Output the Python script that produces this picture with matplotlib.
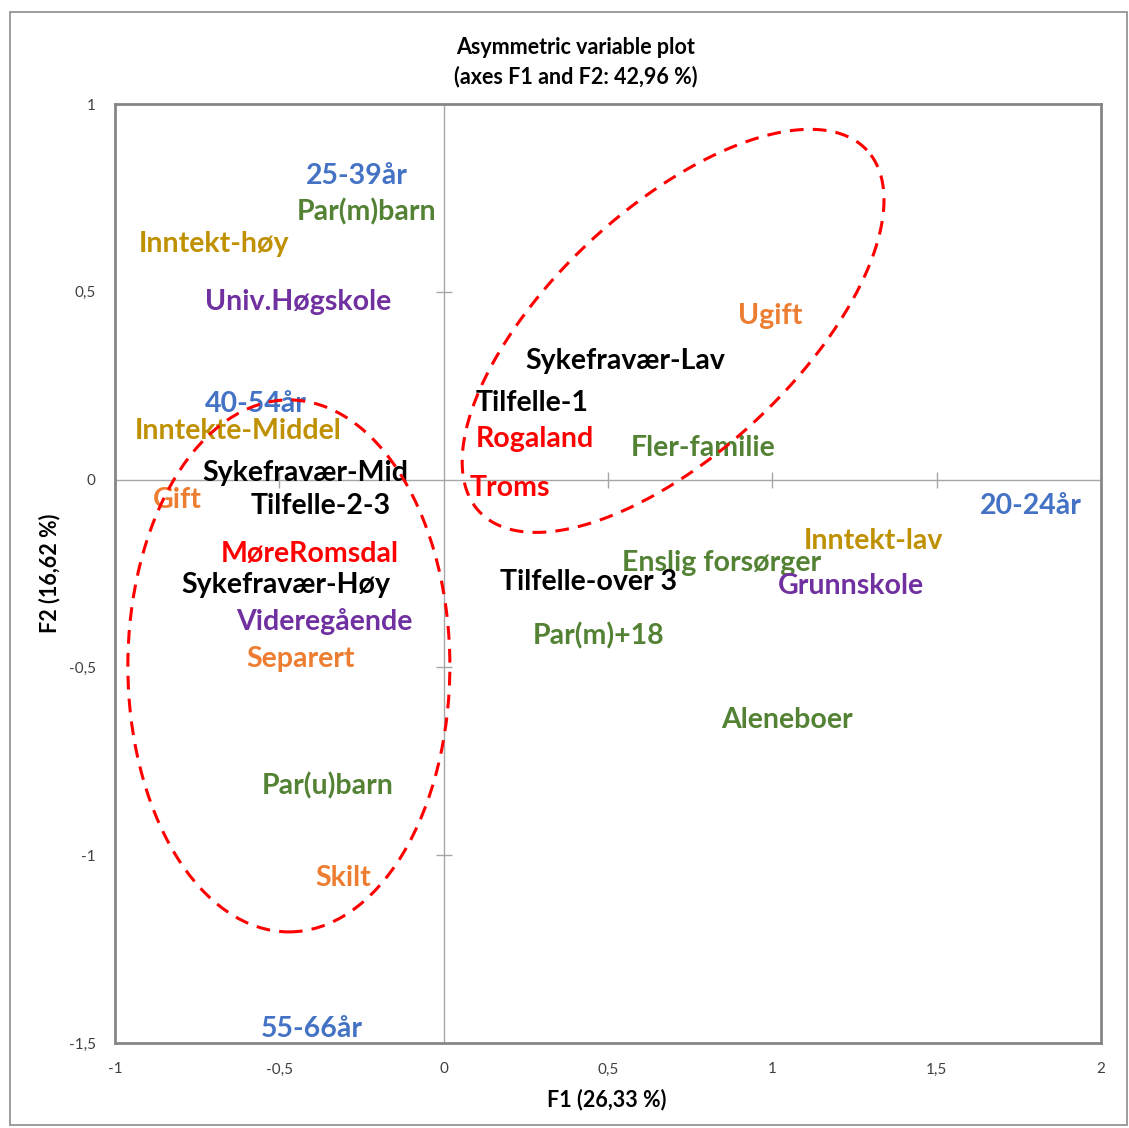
import numpy as np
import matplotlib
matplotlib.use("Agg")
from matplotlib import pyplot as plt
from matplotlib.patches import Rectangle, Ellipse

plt.rcParams["font.family"] = ["Lato", "DejaVu Sans"]

# category labels and their F1/F2 coordinates
labels = [
    "25-39år", "Par(m)barn", "Inntekt-høy", "Univ.Høgskole", "Ugift",
    "Sykefravær-Lav", "Tilfelle-1", "40-54år", "Inntekte-Middel", "Rogaland",
    "Fler-familie", "Sykefravær-Mid", "Troms", "Gift", "Tilfelle-2-3",
    "20-24år", "Inntekt-lav", "MøreRomsdal", "Enslig forsørger", "Sykefravær-Høy",
    "Tilfelle-over 3", "Grunnskole", "Videregående", "Separert", "Par(m)+18",
    "Aleneboer", "Par(u)barn", "Skilt", "55-66år",
]
f1 = [
    -0.264, -0.236, -0.699, -0.443, 0.993,
    0.552, 0.269, -0.570, -0.626, 0.278,
    0.789, -0.422, 0.202, -0.811, -0.373,
    1.787, 1.307, -0.407, 0.847, -0.480,
    0.442, 1.240, -0.364, -0.434, 0.470,
    1.045, -0.352, -0.306, -0.400,
]
f2 = [
    0.808, 0.712, 0.627, 0.473, 0.435,
    0.316, 0.204, 0.201, 0.129, 0.108,
    0.084, 0.018, -0.022, -0.054, -0.070,
    -0.070, -0.164, -0.198, -0.222, -0.281,
    -0.273, -0.283, -0.379, -0.478, -0.417,
    -0.640, -0.816, -1.061, -1.463,
]
groups = [
    "age", "family", "income", "edu", "civil",
    "sick", "sick", "age", "income", "region",
    "family", "sick", "region", "civil", "sick",
    "age", "income", "region", "family", "sick",
    "sick", "edu", "edu", "civil", "family",
    "family", "family", "civil", "age",
]
group_colors = {
    "age": "#4472C4", "family": "#548235", "income": "#BF9000",
    "edu": "#7030A0", "civil": "#ED7D31", "sick": "#000000", "region": "#FF0000",
}

x_ticks = [-1, -0.5, 0, 0.5, 1, 1.5, 2]
y_ticks = [-1.5, -1, -0.5, 0, 0.5, 1]

# ellipses drawn by hand on the original: center (F1, F2), semi axes in pixels, tilt in degrees
ell_upper = dict(cx=0.698, cy=0.396, a=265, b=122, angle=43)
ell_lower = dict(cx=-0.471, cy=-0.496, a=161, b=266, angle=0)


def fmt(v):
    s = ("%g" % v).replace(".", ",")
    return s


fig = plt.figure(figsize=(11.29, 11.28), dpi=100)
ax = fig.add_axes([115 / 1129, 1 - 1043 / 1128, 986 / 1129, 939 / 1128])
ax.set_xlim(-1, 2)
ax.set_ylim(-1.5, 1)

# outer chart border
fig.patches.append(Rectangle((10 / 1129, 3 / 1128), 1117 / 1129, 1113 / 1128,
                             transform=fig.transFigure, fill=False,
                             edgecolor="#8c8c8c", linewidth=1.2))

for sp in ax.spines.values():
    sp.set_color("#868686")
    sp.set_linewidth(2)

ax.axhline(0, color="#a6a6a6", lw=1, zorder=1)
ax.axvline(0, color="#a6a6a6", lw=1, zorder=1)
# small cross ticks on the zero lines
xt = [v for v in x_ticks if v not in (0, x_ticks[0], x_ticks[-1])]
yt = [v for v in y_ticks if v not in (0, y_ticks[0], y_ticks[-1])]
ax.plot(xt, [0] * len(xt), ls="none", marker="|", ms=12, mew=1, color="#a6a6a6")
ax.plot([0] * len(yt), yt, ls="none", marker="_", ms=12, mew=1, color="#a6a6a6")

ax.set_xticks(x_ticks)
ax.set_yticks(y_ticks)
ax.set_xticklabels([fmt(v) for v in x_ticks])
ax.set_yticklabels([fmt(v) for v in y_ticks])
ax.tick_params(length=0, labelsize=11, colors="#404040", pad=14)
ax.tick_params(axis="y", pad=14)

for lab, x, y, g in zip(labels, f1, f2, groups):
    ax.text(x, y, lab, color=group_colors[g], fontsize=20.5, fontweight="bold",
            ha="center", va="center", zorder=3)

# ellipses
px_x = 986 / 3.0
px_y = 939 / 2.5
t = np.linspace(0, 2 * np.pi, 400)
th = np.deg2rad(ell_upper["angle"])
dx = ell_upper["a"] * np.cos(th) * np.cos(t) - ell_upper["b"] * np.sin(th) * np.sin(t)
dy = ell_upper["a"] * np.sin(th) * np.cos(t) + ell_upper["b"] * np.cos(th) * np.sin(t)
ax.plot(ell_upper["cx"] + dx / px_x, ell_upper["cy"] + dy / px_y,
        color="#FF0000", lw=2.2, ls=(0, (4.5, 3)), zorder=4)
ax.add_patch(Ellipse((ell_lower["cx"], ell_lower["cy"]),
                     2 * ell_lower["a"] / px_x, 2 * ell_lower["b"] / px_y,
                     angle=ell_lower["angle"], fill=False, edgecolor="#FF0000",
                     lw=2.2, ls=(0, (4.5, 3)), zorder=4))

fig.text(576 / 1129, 1 - 48 / 1128, "Asymmetric variable plot", ha="center",
         va="center", fontsize=15.5, fontweight="bold")
fig.text(576 / 1129, 1 - 77 / 1128, "(axes F1 and F2: 42,96 %)", ha="center",
         va="center", fontsize=15.5, fontweight="bold")
fig.text(607 / 1129, 1 - 1100 / 1128, "F1 (26,33 %)", ha="center", va="center",
         fontsize=15.5, fontweight="bold")
fig.text(50 / 1129, 1 - 573 / 1128, "F2 (16,62 %)", ha="center", va="center",
         fontsize=15.5, fontweight="bold", rotation=90)

fig.savefig("out.png", dpi=100)
